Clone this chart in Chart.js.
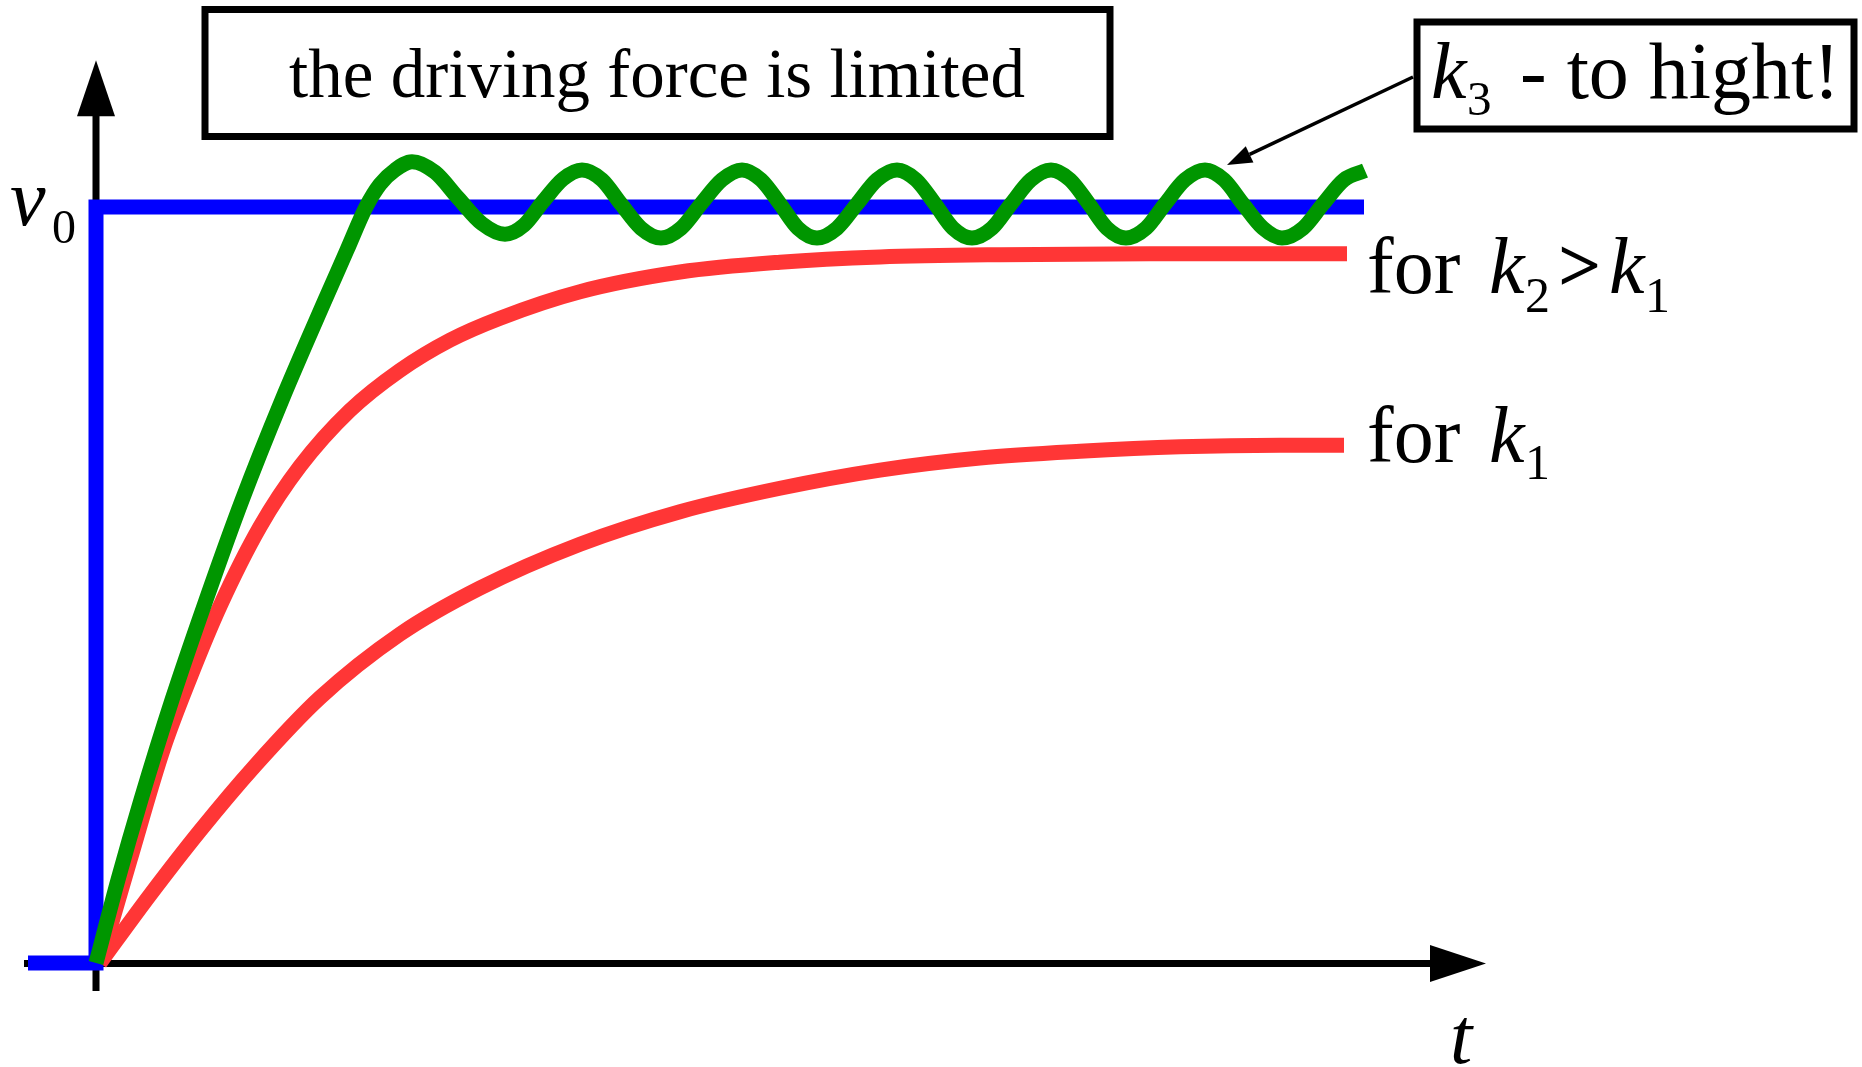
<!DOCTYPE html>
<html>
<head>
<meta charset="utf-8">
<title>driving force is limited</title>
<script src="https://cdn.jsdelivr.net/npm/chart.js@4.4.1/dist/chart.umd.min.js"></script>
<style>
  html, body { margin: 0; padding: 0; background: #fff; overflow: hidden; }
  #wrap { width: 1862px; height: 1067px; }
</style>
</head>
<body>
<div id="wrap"><canvas id="speedChart" width="1862" height="1067"></canvas></div>
<script>
// time in arbitrary units, speed as a fraction of v0

// driving step (blue)
const tStep = [-6.8, 0, 0, 126.8];
const vStep = [0, 0, 1, 1];

// for k1
const tK1 = [0.4, 5.4, 10.4, 15.9, 22.4, 30.4, 38.4, 48.4, 58.4, 68.4, 78.4, 88.4, 98.4, 108.4, 118.4, 124.8];
const vK1 = [0, 0.090, 0.175, 0.261, 0.351, 0.435, 0.496, 0.554, 0.597, 0.628, 0.652, 0.668, 0.677, 0.683, 0.685, 0.685];

// for k2 > k1
const tK2 = [0.4, 3.4, 6.7, 9.4, 12.4, 16.4, 20.4, 25.4, 30.4, 35.4, 40.4, 48.4, 58.4, 68.4, 78.4, 90.4, 105.4, 125.1];
const vK2 = [0, 0.136, 0.282, 0.377, 0.472, 0.577, 0.657, 0.731, 0.784, 0.824, 0.853, 0.888, 0.914, 0.927, 0.934, 0.937, 0.938, 0.938];

// k3 - too high, oscillates (green)
const tK3 = [0, 2.2, 4.5, 7.6, 11.0, 14.6, 18.6, 22.9, 25.1, 27.0, 28.4, 29.9, 31.6,
             33.9, 36.2, 38.6, 40.9, 42.8, 44.7, 46.7, 48.6,
             50.6, 52.5, 54.5, 56.5, 58.5, 60.5, 62.6, 64.6,
             66.5, 68.4, 70.2, 72.1, 74.1, 76.1, 78.1, 80.1,
             82.0, 83.9, 85.7, 87.6, 89.6, 91.5, 93.5, 95.5,
             97.4, 99.3, 101.1, 103.0, 105.0, 106.9, 108.9, 110.9,
             112.8, 114.7, 116.7, 118.6, 120.7, 122.7, 124.8, 126.9];
const vK3 = [0, 0.110, 0.216, 0.348, 0.480, 0.612, 0.745, 0.877, 0.943, 1.000, 1.030, 1.049, 1.060,
             1.046, 1.012, 0.978, 0.964, 0.976, 1.007, 1.037, 1.049,
             1.036, 1.004, 0.972, 0.959, 0.972, 1.004, 1.036, 1.049,
             1.036, 1.004, 0.972, 0.959, 0.972, 1.004, 1.036, 1.049,
             1.036, 1.004, 0.972, 0.959, 0.972, 1.004, 1.036, 1.049,
             1.036, 1.004, 0.972, 0.959, 0.972, 1.004, 1.036, 1.049,
             1.036, 1.004, 0.972, 0.959, 0.972, 1.004, 1.036, 1.048];

const xy = (ts, vs) => ts.map((t, i) => ({ x: t, y: vs[i] }));

const SERIF = '"Liberation Serif", "Times New Roman", serif';

// axes with arrows, drawn under the curves
const axesPlugin = {
  id: "axes",
  beforeDatasetsDraw(chart) {
    const { ctx, scales: { x, y } } = chart;
    const x0 = x.getPixelForValue(0);
    const y0 = y.getPixelForValue(0) + 0.5;
    ctx.save();
    ctx.strokeStyle = "#000";
    ctx.fillStyle = "#000";
    ctx.lineWidth = 7;
    ctx.lineCap = "butt";

    // t axis
    const xEnd = x.getPixelForValue(133.4);
    const xTip = x.getPixelForValue(139.0);
    ctx.beginPath();
    ctx.moveTo(x.getPixelForValue(-7.2), y0);
    ctx.lineTo(xEnd + 2, y0);
    ctx.stroke();
    ctx.beginPath();
    ctx.moveTo(xEnd, y0 - 18.5);
    ctx.lineTo(xTip, y0);
    ctx.lineTo(xEnd, y0 + 18.5);
    ctx.closePath();
    ctx.fill();

    // v axis
    const yEnd = y.getPixelForValue(1.12);
    const yTip = y.getPixelForValue(1.194);
    ctx.beginPath();
    ctx.moveTo(x0, y.getPixelForValue(-0.037));
    ctx.lineTo(x0, yEnd - 2);
    ctx.stroke();
    ctx.beginPath();
    ctx.moveTo(x0 - 19, yEnd);
    ctx.lineTo(x0, yTip);
    ctx.lineTo(x0 + 19, yEnd);
    ctx.closePath();
    ctx.fill();
    ctx.restore();
  },

  afterDatasetsDraw(chart) {
    const { ctx, scales: { x, y } } = chart;
    ctx.save();
    ctx.fillStyle = "#000";
    ctx.strokeStyle = "#000";
    ctx.textBaseline = "alphabetic";

    // axis names
    ctx.font = `italic 80px ${SERIF}`;
    ctx.fillText("v", 10, 225);
    ctx.font = `48px ${SERIF}`;
    ctx.fillText("0", 52, 243);
    ctx.font = `italic 80px ${SERIF}`;
    ctx.fillText("t", 1450, 1063);

    // title box
    ctx.lineWidth = 7;
    ctx.strokeRect(205, 9.5, 905, 127);
    ctx.font = `69px ${SERIF}`;
    ctx.textAlign = "center";
    ctx.fillText("the driving force is limited", 657, 97);
    ctx.textAlign = "left";

    // k3 box + pointer
    ctx.strokeRect(1417, 22, 437, 107);
    ctx.font = `italic 80px ${SERIF}`;
    ctx.fillText("k", 1431, 98);
    ctx.font = `49px ${SERIF}`;
    ctx.fillText("3", 1467, 115);
    ctx.font = `80px ${SERIF}`;
    ctx.fillText("- to hight!", 1520, 98);

    const tipX = 1227, tipY = 165, fromX = 1413, fromY = 77;
    const dx = tipX - fromX, dy = tipY - fromY;
    const len = Math.hypot(dx, dy);
    const ux = dx / len, uy = dy / len;
    const bx = tipX - ux * 25, by = tipY - uy * 25;
    ctx.lineWidth = 3.5;
    ctx.beginPath();
    ctx.moveTo(fromX, fromY);
    ctx.lineTo(bx, by);
    ctx.stroke();
    ctx.beginPath();
    ctx.moveTo(tipX, tipY);
    ctx.lineTo(bx - uy * 9, by + ux * 9);
    ctx.lineTo(bx + uy * 9, by - ux * 9);
    ctx.closePath();
    ctx.fill();

    // labels at the end of the red curves
    const k2x = x.getPixelForValue(tK2[tK2.length - 1]) + 20;
    const k2y = y.getPixelForValue(vK2[vK2.length - 1]) + 39;
    ctx.font = `80px ${SERIF}`;
    ctx.fillText("for", k2x, k2y);
    ctx.font = `italic 80px ${SERIF}`;
    ctx.fillText("k", k2x + 122, k2y);
    ctx.font = `50px ${SERIF}`;
    ctx.fillText("2", k2x + 158, k2y + 19);
    ctx.font = `bold 76px ${SERIF}`;
    ctx.fillText(">", k2x + 191, k2y - 2);
    ctx.font = `italic 80px ${SERIF}`;
    ctx.fillText("k", k2x + 242, k2y);
    ctx.font = `50px ${SERIF}`;
    ctx.fillText("1", k2x + 278, k2y + 19);

    const k1x = x.getPixelForValue(tK1[tK1.length - 1]) + 23;
    const k1y = y.getPixelForValue(vK1[vK1.length - 1]) + 17;
    ctx.font = `80px ${SERIF}`;
    ctx.fillText("for", k1x, k1y);
    ctx.font = `italic 80px ${SERIF}`;
    ctx.fillText("k", k1x + 122, k1y);
    ctx.font = `50px ${SERIF}`;
    ctx.fillText("1", k1x + 158, k1y + 17);
    ctx.restore();
  },
};

const curve = (label, data, color, order) => ({
  label: label,
  data: data,
  borderColor: color,
  backgroundColor: color,
  borderWidth: 15,
  pointRadius: 0,
  fill: false,
  cubicInterpolationMode: "monotone",
  borderCapStyle: "butt",
  borderJoinStyle: "round",
  order: order,
});

new Chart(document.getElementById("speedChart"), {
  type: "line",
  data: {
    datasets: [
      curve("k3", xy(tK3, vK3), "#009600", 0),
      curve("k2", xy(tK2, vK2), "#ff3636", 1),
      curve("k1", xy(tK1, vK1), "#ff3636", 2),
      {
        label: "v0",
        data: xy(tStep, vStep),
        borderColor: "#0000ff",
        borderWidth: 15,
        pointRadius: 0,
        fill: false,
        tension: 0,
        borderCapStyle: "butt",
        borderJoinStyle: "miter",
        order: 3,
      },
    ],
  },
  options: {
    responsive: false,
    devicePixelRatio: 1,
    animation: false,
    events: [],
    layout: { padding: 0 },
    plugins: { legend: { display: false }, tooltip: { enabled: false } },
    scales: {
      x: { type: "linear", display: false, min: -9.6, max: 176.6 },
      y: { type: "linear", display: false, min: -0.13757, max: 1.27381 },
    },
  },
  plugins: [axesPlugin],
});
</script>
</body>
</html>
